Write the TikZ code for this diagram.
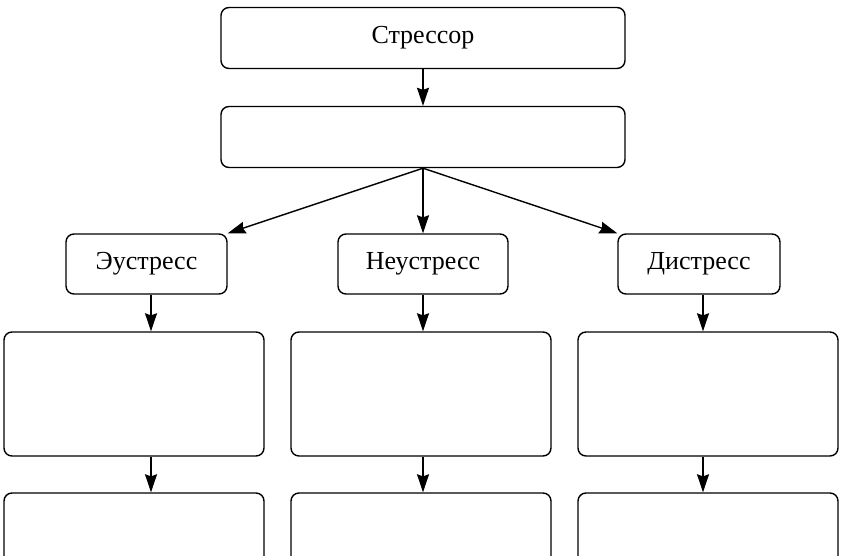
\documentclass[tikz,border=0pt]{standalone}
\usepackage{fontspec}
\setmainfont{Liberation Serif}
\usetikzlibrary{arrows.meta}
\begin{document}
\begin{tikzpicture}[x=1pt,y=-1pt,
  box/.style={draw, line width=1.4pt, rounded corners=8pt, rectangle, inner sep=0pt,
    font=\fontsize{26}{30}\selectfont},
  arr/.style={line width=1.4pt, -{Stealth[length=18pt,width=12pt,inset=2pt]}}]
\clip (0,0) rectangle (841,555);
\fill[white] (0,0) rectangle (841,555);
% top chain
\node[box, minimum width=404pt, minimum height=61pt] (s) at (423,38) {Стрессор};
\node[box, minimum width=404pt, minimum height=61pt] (m) at (423,137) {};
% three kinds of stress
\node[box, minimum width=161pt, minimum height=60pt] (eu) at (146.5,264) {Эустресс};
\node[box, minimum width=170pt, minimum height=60pt] (ne) at (423,264) {Неустресс};
\node[box, minimum width=162pt, minimum height=60pt] (di) at (699,264) {Дистресс};
% empty boxes below
\node[box, minimum width=260pt, minimum height=124pt] (l1) at (134,394) {};
\node[box, minimum width=260pt, minimum height=124pt] (l2) at (421,394) {};
\node[box, minimum width=260pt, minimum height=124pt] (l3) at (708,394) {};
\node[box, minimum width=260pt, minimum height=80pt] (b1) at (134,533) {};
\node[box, minimum width=260pt, minimum height=80pt] (b2) at (421,533) {};
\node[box, minimum width=260pt, minimum height=80pt] (b3) at (708,533) {};
% arrow columns
\coordinate (c1) at (151,0);
\coordinate (c2) at (423,0);
\coordinate (c3) at (703,0);
% connectors
\draw[arr] (s.south) -- (m.north);
\draw[arr] (m.south) -- (eu.north east);
\draw[arr] (m.south) -- (ne.north);
\draw[arr] (m.south) -- (di.north west);
\draw[arr] (c1 |- eu.south) -- (c1 |- l1.north);
\draw[arr] (c2 |- ne.south) -- (c2 |- l2.north);
\draw[arr] (c3 |- di.south) -- (c3 |- l3.north);
\draw[arr] (c1 |- l1.south) -- (c1 |- b1.north);
\draw[arr] (c2 |- l2.south) -- (c2 |- b2.north);
\draw[arr] (c3 |- l3.south) -- (c3 |- b3.north);
\end{tikzpicture}
\end{document}
